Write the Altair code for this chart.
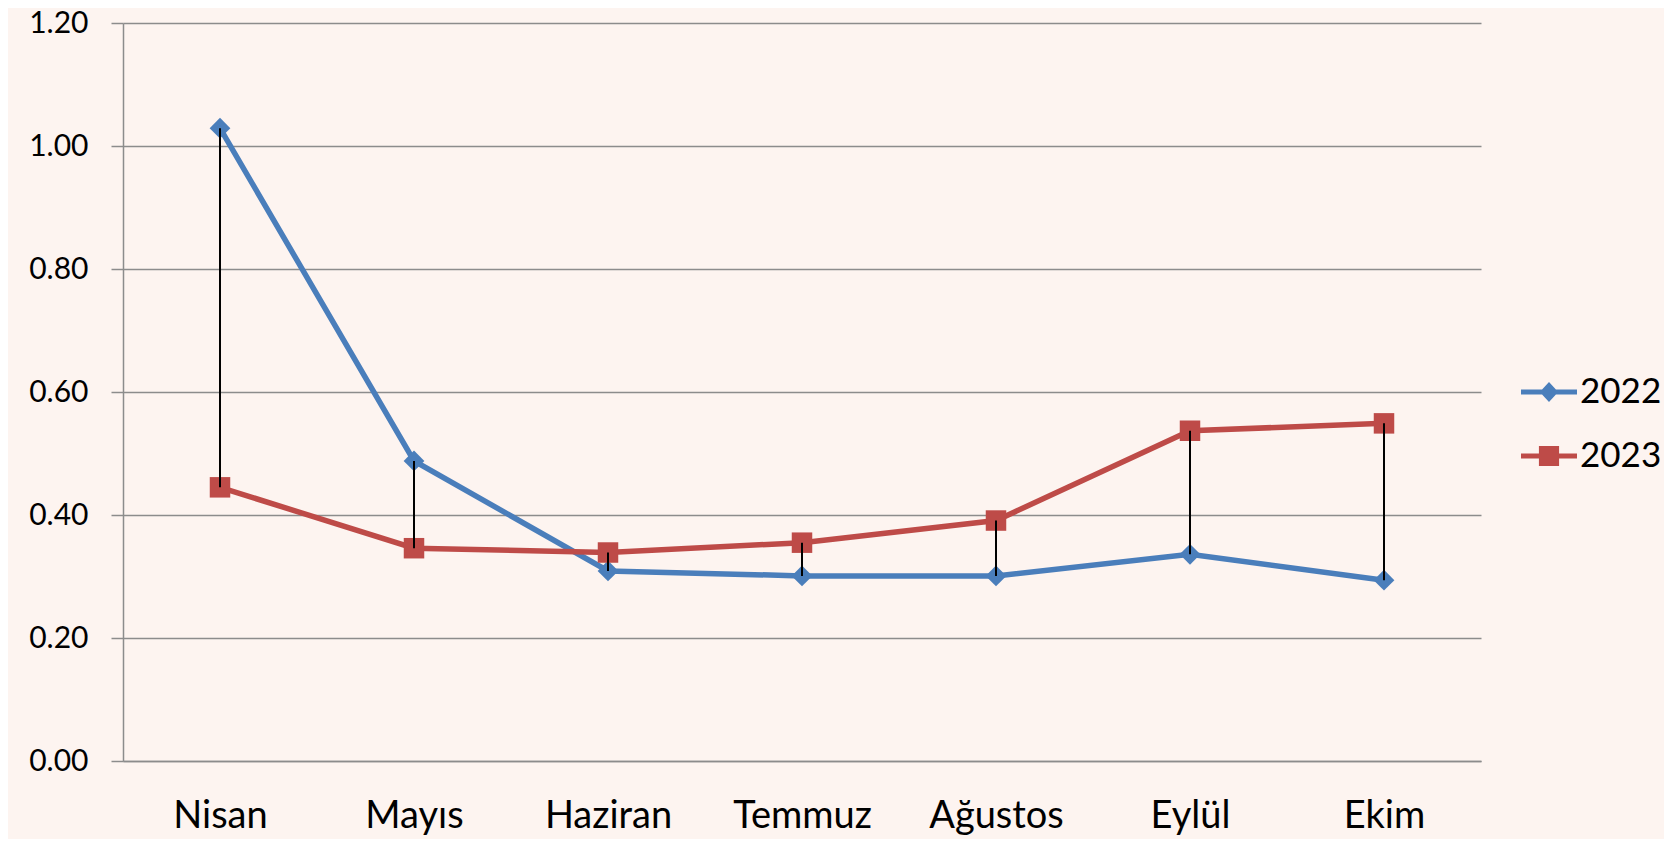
import altair as alt
import pandas as pd

months = ["Nisan", "Mayıs", "Haziran", "Temmuz", "Ağustos", "Eylül", "Ekim"]
v2022 = [1.029, 0.488, 0.309, 0.301, 0.301, 0.336, 0.294]
v2023 = [0.445, 0.346, 0.339, 0.355, 0.391, 0.537, 0.549]
years = ["2022", "2023"]
colors = ["#4A7EBB", "#BE4B48"]
y_ticks = [0.0, 0.2, 0.4, 0.6, 0.8, 1.0, 1.2]

long = pd.DataFrame({
    "Ay": months * 2,
    "Yıl": [years[0]] * len(months) + [years[1]] * len(months),
    "Değer": v2022 + v2023,
})
wide = pd.DataFrame({"Ay": months, "v2022": v2022, "v2023": v2023})

FONT = "Lato"
GRID = "#8C8C8C"

x_scale = alt.Scale(type="point", domain=months, padding=0.5)
x_enc = alt.X(
    "Ay:N", sort=months, scale=x_scale,
    axis=alt.Axis(title=None, labelAngle=0, ticks=False, grid=False,
                  labelFont=FONT, labelFontSize=38, labelColor="black",
                  labelPadding=36, domainColor=GRID, domainWidth=1.5),
)
y_scale = alt.Scale(domain=[0, 1.2], nice=False, zero=True)
y_enc = alt.Y(
    "Değer:Q", scale=y_scale,
    axis=alt.Axis(title=None, values=y_ticks, format=".2f",
                  labelFont=FONT, labelFontSize=30, labelColor="black",
                  labelPadding=23, tickSize=12, tickColor=GRID, tickWidth=1.5,
                  grid=True, gridColor=GRID, gridWidth=1.5,
                  domainColor=GRID, domainWidth=1.5),
)

legend_def = alt.Legend(
    title=None, orient="none", legendX=1398, legendY=341, padding=0,
    labelFont=FONT, labelFontSize=35, labelColor="black", labelOffset=3,
    symbolSize=3136, symbolStrokeWidth=0, symbolOpacity=1, rowPadding=18,
)
color_enc = alt.Color("Yıl:N", scale=alt.Scale(domain=years, range=colors), legend=legend_def)

lines = alt.Chart(long).mark_line(strokeWidth=5.5).encode(
    x=x_enc, y=y_enc, color=color_enc,
)

pts2022 = alt.Chart(long).transform_filter(
    alt.datum["Yıl"] == years[0]
).mark_point(filled=True, opacity=1, shape="diamond", size=430).encode(
    x=x_enc, y=y_enc, color=color_enc,
)
pts2023 = alt.Chart(long).transform_filter(
    alt.datum["Yıl"] == years[1]
).mark_point(filled=True, opacity=1, shape="square", size=420).encode(
    x=x_enc, y=y_enc, color=color_enc,
)

rules = alt.Chart(wide).mark_rule(color="black", strokeWidth=2).encode(
    x=alt.X("Ay:N", sort=months, scale=x_scale),
    y=alt.Y("v2022:Q", scale=y_scale),
    y2="v2023:Q",
)

diamond_path = "M-1,-0.09L1,-0.09L1,0.09L-1,0.09Z M0,-0.36L0.33,0L0,0.36L-0.33,0Z"
square_path = "M-1,-0.09L1,-0.09L1,0.09L-1,0.09Z M-0.36,-0.36L0.36,-0.36L0.36,0.36L-0.36,0.36Z"

legend_helper = alt.Chart(long).mark_point(filled=True, opacity=0).encode(
    x=x_enc, y=y_enc, color=color_enc,
    shape=alt.Shape("Yıl:N", scale=alt.Scale(domain=years, range=[diamond_path, square_path]),
                    legend=legend_def),
)

chart = alt.layer(lines, pts2022, pts2023, rules, legend_helper).properties(
    width=1358, height=738,
    padding={"left": 115, "top": 15, "right": 183, "bottom": 78},
    autosize=alt.AutoSizeParams(type="none"),
    background="#FDF4F0",
).configure_view(stroke=None)

chart.save("out.html", embed_options={"renderer": "svg", "actions": False})
